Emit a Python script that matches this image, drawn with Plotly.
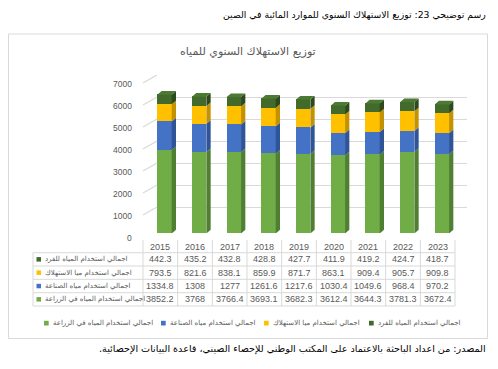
import plotly.graph_objects as go

# ---------------- data ----------------
years = ["2015", "2016", "2017", "2018", "2019", "2020", "2021", "2022", "2023"]
agriculture = [3852.2, 3768, 3766.4, 3693.1, 3682.3, 3612.4, 3644.3, 3781.3, 3672.4]
industry = [1334.8, 1308, 1277, 1261.6, 1217.6, 1030.4, 1049.6, 968.4, 970.2]
domestic = [793.5, 821.6, 838.1, 859.9, 871.7, 863.1, 909.4, 905.7, 909.8]
per_capita = [442.3, 435.2, 432.8, 428.8, 427.7, 411.9, 419.2, 424.7, 418.7]

name_agri = "اجمالي استخدام المياه في الزراعة"
name_ind = "اجمالي استخدام مياه الصناعة"
name_dom = "اجمالي استخدام ميا الاستهلاك"
name_pc = "اجمالي استخدام المياه للفرد"

y_ticks = [0, 1000, 2000, 3000, 4000, 5000, 6000, 7000]

caption = "رسم توضيحي 23: توزيع الاستهلاك السنوي للموارد المائية في الصين"
title = "توزيع الاستهلاك السنوي للمياه"
source = "المصدر: من اعداد الباحثة بالاعتماد على المكتب الوطني للإحصاء الصيني، قاعدة البيانات الإحصائية.\u200f"

# ---------------- styling ----------------
# the page body has an 8px margin, so the figure is drawn from (8, 8)
OX, OY = 8, 8
W, H = 490, 361
AR = "DejaVu Sans"
NUM = "Liberation Sans"
GRAY = "#595959"
LINE = "#D9D9D9"

series = [
    (name_agri, agriculture, "#70AD47", "#507E32"),
    (name_ind, industry, "#4472C4", "#2F5597"),
    (name_dom, domestic, "#FFC000", "#C29200"),
    (name_pc, per_capita, "#416A2B", "#2C4A1D"),
]
TOP_FACE = "#4C7A33"


def px(x):
    return (x - OX) / W


def py(y):
    return 1 - (y - OY) / H


BW = 0.415      # bar width (category units)
OFF = -0.087    # left edge offset from category centre
DX = 0.124      # depth in x (category units)
DY = 171        # depth in y (data units)

idx = list(range(len(years)))

fig = go.Figure()

# invisible trace to create the back-wall (grid) subplot
fig.add_trace(go.Scatter(x=[0], y=[0], mode="markers", marker=dict(opacity=0),
                         xaxis="x", yaxis="y", hoverinfo="skip", showlegend=False))

# front faces
for name, vals, col, side in series:
    fig.add_trace(go.Bar(x=idx, y=vals, name=name, width=BW, offset=OFF,
                         marker=dict(color=col, line=dict(width=0)),
                         xaxis="x2", yaxis="y2", showlegend=False))

# side faces (parallelograms) and top face
bottoms = [0.0] * len(years)
for k, (name, vals, col, side) in enumerate(series):
    xs, ys = [], []
    for i in idx:
        b = bottoms[i]
        t = b + vals[i]
        xr = i + OFF + BW
        xs += [xr, xr + DX, xr + DX, xr, xr, None]
        ys += [b, b + DY, t + DY, t, b, None]
    fig.add_trace(go.Scatter(x=xs, y=ys, mode="lines", fill="toself", fillcolor=side,
                             line=dict(width=0, color=side), xaxis="x2", yaxis="y2",
                             hoverinfo="skip", showlegend=False))
    bottoms = [bottoms[i] + vals[i] for i in idx]

xs, ys = [], []
for i in idx:
    t = bottoms[i]
    xl = i + OFF
    xr = xl + BW
    xs += [xl, xl + DX, xr + DX, xr, xl, None]
    ys += [t, t + DY, t + DY, t, t, None]
fig.add_trace(go.Scatter(x=xs, y=ys, mode="lines", fill="toself", fillcolor=TOP_FACE,
                         line=dict(width=0, color=TOP_FACE), xaxis="x2", yaxis="y2",
                         hoverinfo="skip", showlegend=False))

shapes = []
ann = []

# chart frame
shapes.append(dict(type="rect", xref="paper", yref="paper", x0=px(8.5), x1=px(487.5),
                   y0=py(34), y1=py(338.5), line=dict(color=LINE, width=1)))

# perspective floor lines of gridlines + y tick labels
for v in y_ticks:
    shapes.append(dict(type="line", xref="paper", yref="y", ysizemode="pixel", yanchor=v,
                       x0=px(143), x1=px(157), y0=-8, y1=0,
                       line=dict(color=LINE, width=1.3)))
    ann.append(dict(x=px(134), y=v, xref="paper", yref="y", yshift=-9, text=str(v),
                    showarrow=False, xanchor="right", yanchor="middle",
                    font=dict(family=NUM, size=8.5, color=GRAY)))

# data table grid
col_w = (455 - 143) / 9
for k in range(10):
    x = 143 + col_w * k
    shapes.append(dict(type="line", xref="paper", yref="paper", x0=px(x), x1=px(x),
                       y0=py(240), y1=py(306), line=dict(color=LINE, width=1)))
row_lines = [252.7, 266, 279.3, 292.7, 306]
for y in row_lines:
    shapes.append(dict(type="line", xref="paper", yref="paper", x0=px(33), x1=px(455),
                       y0=py(y), y1=py(y), line=dict(color=LINE, width=1)))
shapes.append(dict(type="line", xref="paper", yref="paper", x0=px(33), x1=px(33),
                   y0=py(252.7), y1=py(306), line=dict(color=LINE, width=1)))

# year header
for i in idx:
    ann.append(dict(x=i, y=py(246.5), xref="x2", yref="paper", text=years[i],
                    showarrow=False, xanchor="center", yanchor="middle",
                    font=dict(family=NUM, size=9, color=GRAY)))


def fmt(v):
    return f"{v:g}"


table_rows = list(reversed(series))  # per capita on top
row_centers = [259.3, 272.6, 286, 299.3]
for (name, vals, col, side), yc in zip(table_rows, row_centers):
    shapes.append(dict(type="rect", xref="paper", yref="paper", x0=px(36.5), x1=px(41),
                       y0=py(yc + 2.3), y1=py(yc - 2.2), fillcolor=col, line=dict(width=0)))
    ann.append(dict(x=px(43), y=py(yc), xref="paper", yref="paper", text=name,
                    showarrow=False, xanchor="left", yanchor="middle",
                    font=dict(family=AR, size=7, color=GRAY)))
    for i in idx:
        ann.append(dict(x=i, y=py(yc), xref="x2", yref="paper", text=fmt(vals[i]),
                        showarrow=False, xanchor="center", yanchor="middle",
                        font=dict(family=NUM, size=9, color=GRAY)))

# legend (bottom)
leg_x = [44, 161, 264, 369]
for (name, vals, col, side), x in zip(series, leg_x):
    shapes.append(dict(type="rect", xref="paper", yref="paper", x0=px(x), x1=px(x + 4.7),
                       y0=py(325.5), y1=py(320.8), fillcolor=col, line=dict(width=0)))
    ann.append(dict(x=px(x + 7), y=py(323), xref="paper", yref="paper", text=name,
                    showarrow=False, xanchor="left", yanchor="middle",
                    font=dict(family=AR, size=7, color=GRAY)))

# texts
ann.append(dict(x=px(488), y=py(15), xref="paper", yref="paper", text=caption,
                showarrow=False, xanchor="right", yanchor="middle",
                font=dict(family=AR, size=9.3, color="#000000")))
ann.append(dict(x=px(248), y=py(52), xref="paper", yref="paper", text=title,
                showarrow=False, xanchor="center", yanchor="middle",
                font=dict(family=AR, size=11, color=GRAY)))
ann.append(dict(x=px(488), y=py(349), xref="paper", yref="paper", text=source,
                showarrow=False, xanchor="right", yanchor="middle",
                font=dict(family=AR, size=9.6, color="#000000")))

fig.update_layout(
    template="none",
    width=W, height=H, autosize=False,
    margin=dict(l=0, r=0, t=0, b=0, pad=0),
    paper_bgcolor="white", plot_bgcolor="rgba(0,0,0,0)",
    barmode="stack", bargap=0,
    showlegend=False,
    shapes=shapes, annotations=ann,
    xaxis=dict(domain=[px(157), px(467)], range=[0, 1], visible=False, anchor="y"),
    yaxis=dict(domain=[py(229), py(75)], range=[0, 7000], anchor="x",
               tickvals=y_ticks, showgrid=True, gridcolor=LINE, gridwidth=1.3,
               zeroline=False, showline=False, ticks="", showticklabels=False),
    xaxis2=dict(domain=[px(143), px(455)], range=[-0.5, 8.5], visible=False, anchor="y2"),
    yaxis2=dict(domain=[py(233.5), py(82.3)], range=[0, 7000], visible=False, anchor="x2"),
)

fig.write_html("out.html")
